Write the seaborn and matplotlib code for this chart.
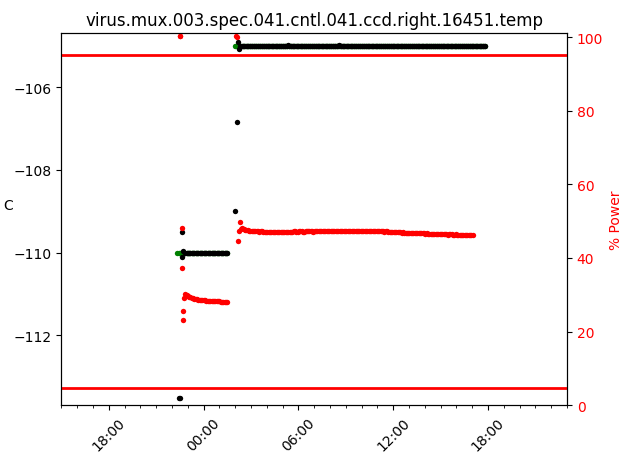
import matplotlib
matplotlib.use("Agg")
import matplotlib.pyplot as plt
import matplotlib.dates as mdates
import pandas as pd
import seaborn as sns

TITLE = "virus.mux.003.spec.041.cntl.041.ccd.right.16451.temp"
LEFT_LABEL = "C"
RIGHT_LABEL = "% Power"
LIMIT_LINES = [-105.23, -113.28]
XLIM = ["2024-01-10 15:00", "2024-01-11 23:00"]
STEP = "5min"

# ---- temperature (black) ----
temp_times_a = ["2024-01-10 22:28", "2024-01-10 22:32", "2024-01-10 22:36",
                "2024-01-10 22:38", "2024-01-10 22:42"]
temp_vals_a = [-113.52, -113.52, -109.51, -110.11, -109.97]
temp_start_b = "2024-01-10 22:50"   # every 5 min
temp_vals_b = [
    -110.0, -110.0, -110.0, -110.0, -110.0, -110.0, -110.0, -110.0, -110.0, -110.0,
    -110.0, -110.0, -110.0, -110.0, -110.0, -110.0, -110.0, -110.0, -110.0, -110.0,
    -110.0, -110.0, -110.0, -110.0, -110.0, -110.0, -110.0, -110.0, -110.0, -110.0,
    -110.0, -110.0, -110.0,
]
temp_times_c = ["2024-01-11 02:00", "2024-01-11 02:08", "2024-01-11 02:10", "2024-01-11 02:14"]
temp_vals_c = [-109.0, -106.85, -104.91, -105.08]
temp_start_d = "2024-01-11 02:20"   # every 5 min
temp_vals_d = [
    -105.0, -105.0, -105.0, -105.0, -105.0, -105.0, -105.0, -105.0, -105.0, -105.0,
    -105.0, -105.0, -105.0, -105.0, -105.0, -105.0, -105.0, -105.0, -105.0, -105.0,
    -105.0, -105.0, -105.0, -105.0, -105.0, -105.0, -105.0, -105.0, -105.0, -105.0,
    -105.0, -105.0, -105.0, -105.0, -105.0, -105.0, -104.97, -105.0, -105.0, -105.0,
    -105.0, -105.0, -105.0, -105.0, -105.0, -105.0, -105.0, -105.0, -105.0, -105.0,
    -105.0, -105.0, -105.0, -105.0, -105.0, -105.0, -105.0, -105.0, -105.0, -105.0,
    -105.0, -105.0, -105.0, -105.0, -105.0, -105.0, -105.0, -105.0, -105.0, -105.0,
    -105.0, -105.0, -105.0, -105.0, -105.0, -104.99, -105.0, -105.0, -105.0, -105.0,
    -105.0, -105.0, -105.0, -105.0, -105.0, -105.0, -105.0, -105.0, -105.0, -105.0,
    -105.0, -105.0, -105.0, -105.0, -105.0, -105.0, -105.0, -105.0, -105.0, -105.0,
    -105.0, -105.0, -105.0, -105.0, -105.0, -105.0, -105.0, -105.0, -105.0, -105.0,
    -105.0, -105.0, -105.0, -105.0, -105.0, -105.0, -105.0, -105.0, -105.0, -105.0,
    -105.0, -105.0, -105.0, -105.0, -105.0, -105.0, -105.0, -105.0, -105.0, -105.0,
    -105.0, -105.0, -105.0, -105.0, -105.0, -105.0, -105.0, -105.0, -105.0, -105.0,
    -105.0, -105.0, -105.0, -105.0, -105.0, -105.0, -105.0, -105.0, -105.0, -105.0,
    -105.0, -105.0, -105.0, -105.0, -105.0, -105.0, -105.0, -105.0, -105.0, -105.0,
    -105.0, -105.0, -105.0, -105.0, -105.0, -105.0, -105.0, -105.0, -105.0, -105.0,
    -105.0, -105.0, -105.0, -105.0, -105.0, -105.0, -105.0, -105.0, -105.0, -105.0,
    -105.0, -105.0, -105.0, -105.0, -105.0, -105.0, -105.0,
]

# ---- set point (green) ----
set_start_a = "2024-01-10 22:20"   # every 5 min
set_vals_a = [
    -110.0, -110.0, -110.0, -110.0, -110.0, -110.0, -110.0, -110.0, -110.0, -110.0,
    -110.0, -110.0, -110.0, -110.0, -110.0, -110.0, -110.0, -110.0, -110.0, -110.0,
    -110.0, -110.0, -110.0, -110.0, -110.0, -110.0, -110.0, -110.0, -110.0, -110.0,
    -110.0, -110.0, -110.0, -110.0, -110.0, -110.0, -110.0, -110.0, -110.0,
]
set_start_b = "2024-01-11 01:58"   # every 5 min, constant set point
set_vals_b = [-105.0] * 191

# ---- heater power (red, right axis) ----
power_times_a = ["2024-01-10 22:29", "2024-01-10 22:31", "2024-01-10 22:36", "2024-01-10 22:38",
                 "2024-01-10 22:40", "2024-01-10 22:42", "2024-01-10 22:46"]
power_vals_a = [100.3, 100.3, 48.1, 37.2, 23.1, 25.5, 29.2]
power_start_b = "2024-01-10 22:50"   # every 5 min
power_vals_b = [
    30.2, 30.0, 29.7, 29.5, 29.3, 29.1, 29.0, 28.9, 28.8, 28.75,
    28.7, 28.65, 28.6, 28.55, 28.5, 28.45, 28.4, 28.4, 28.4, 28.35,
    28.3, 28.3, 28.3, 28.25, 28.2, 28.2, 28.2, 28.15, 28.1, 28.1,
    28.1, 28.1, 28.1,
]
power_times_c = ["2024-01-11 02:03", "2024-01-11 02:05", "2024-01-11 02:12", "2024-01-11 02:14",
                 "2024-01-11 02:17", "2024-01-11 02:22"]
power_vals_c = [100.3, 100.0, 44.5, 47.2, 49.8, 47.9]
power_start_d = "2024-01-11 02:27"   # every 5 min
power_vals_d = [
    48.0, 47.8, 47.7, 47.6, 47.5, 47.45, 47.4, 47.35, 47.4, 47.3,
    47.25, 47.3, 47.2, 47.15, 47.2, 47.25, 47.15, 47.1, 47.05, 47.1,
    47.1, 47.05, 47.0, 46.95, 47.0, 47.05, 47.1, 47.0, 46.95, 47.0,
    47.05, 47.1, 47.15, 47.1, 47.0, 47.05, 47.1, 47.15, 47.1, 47.2,
    47.2, 47.1, 47.15, 47.2, 47.25, 47.2, 47.1, 47.15, 47.2, 47.25,
    47.2, 47.3, 47.25, 47.2, 47.15, 47.2, 47.3, 47.25, 47.2, 47.3,
    47.35, 47.3, 47.25, 47.2, 47.3, 47.35, 47.3, 47.25, 47.3, 47.35,
    47.3, 47.25, 47.4, 47.35, 47.3, 47.25, 47.3, 47.4, 47.35, 47.4,
    47.3, 47.35, 47.4, 47.45, 47.4, 47.35, 47.4, 47.45, 47.4, 47.35,
    47.4, 47.45, 47.4, 47.35, 47.4, 47.3, 47.35, 47.4, 47.3, 47.35,
    47.3, 47.25, 47.3, 47.25, 47.2, 47.25, 47.3, 47.2, 47.15, 47.2,
    47.2, 47.1, 47.15, 47.1, 47.1, 47.05, 47.1, 47.0, 47.0, 46.95,
    47.0, 46.9, 46.95, 46.9, 46.85, 46.9, 46.85, 46.8, 46.85, 46.8,
    46.75, 46.8, 46.75, 46.7, 46.75, 46.7, 46.65, 46.7, 46.65, 46.6,
    46.65, 46.6, 46.55, 46.6, 46.55, 46.5, 46.55, 46.5, 46.45, 46.5,
    46.5, 46.45, 46.4, 46.45, 46.5, 46.4, 46.35, 46.4, 46.45, 46.4,
    46.3, 46.35, 46.4, 46.3, 46.35, 46.3, 46.25, 46.3, 46.35, 46.3,
    46.25, 46.3, 46.35, 46.3, 46.25, 46.3,
]


def regular(start, vals):
    return pd.DataFrame({"time": pd.date_range(start, periods=len(vals), freq=STEP),
                         "value": vals})


def irregular(times, vals):
    return pd.DataFrame({"time": pd.to_datetime(times), "value": vals})


temp_df = pd.concat([irregular(temp_times_a, temp_vals_a), regular(temp_start_b, temp_vals_b),
                     irregular(temp_times_c, temp_vals_c), regular(temp_start_d, temp_vals_d)])
set_df = pd.concat([regular(set_start_a, set_vals_a), regular(set_start_b, set_vals_b)])
power_df = pd.concat([irregular(power_times_a, power_vals_a), regular(power_start_b, power_vals_b),
                      irregular(power_times_c, power_vals_c), regular(power_start_d, power_vals_d)])

fig, ax = plt.subplots(figsize=(6.32, 4.6), dpi=100)
fig.subplots_adjust(left=0.0973, right=0.897, top=0.926, bottom=0.117)

MS = 15
sns.scatterplot(data=set_df, x="time", y="value", color="green", s=MS, linewidth=0, ax=ax, zorder=2)
sns.scatterplot(data=temp_df, x="time", y="value", color="black", s=MS, linewidth=0, ax=ax, zorder=3)
for yv in LIMIT_LINES:
    ax.axhline(yv, color="red", lw=2, zorder=4)

ax.set_ylim(-113.69, -104.69)
ax.set_yticks([-112, -110, -108, -106])
ax.set_xlabel("")
ax.set_ylabel(LEFT_LABEL, rotation=0)
ax.yaxis.set_label_coords(-0.105, 0.52)
ax.set_title(TITLE, fontsize=12)

ax2 = ax.twinx()
sns.scatterplot(data=power_df, x="time", y="value", color="red", s=MS, linewidth=0, ax=ax2)
ax2.set_ylim(0, 101.1)
ax2.set_yticks([0, 20, 40, 60, 80, 100])
ax2.set_ylabel(RIGHT_LABEL, color="red")
ax2.tick_params(axis="y", labelcolor="red")
ax2.set_xlabel("")

ax.xaxis.set_major_locator(mdates.HourLocator(byhour=[0, 6, 12, 18]))
ax.xaxis.set_minor_locator(mdates.HourLocator())
ax.xaxis.set_major_formatter(mdates.DateFormatter("%H:%M"))
ax.set_xlim(pd.to_datetime(XLIM[0]), pd.to_datetime(XLIM[1]))
for lbl in ax.get_xticklabels():
    lbl.set_rotation(45)

fig.savefig("out.png", dpi=100)
